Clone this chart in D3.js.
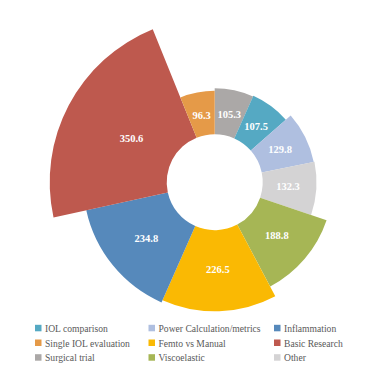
<!DOCTYPE html>
<html><head><meta charset="utf-8">
<script src="https://cdn.jsdelivr.net/npm/d3@7"></script>
<style>
html,body{margin:0;padding:0;background:#fff;}
svg{display:block;}
</style></head>
<body>
<svg id="chart" width="374" height="392"></svg>
<script>
// Data (clockwise from 12 o'clock)
const categories = ["Surgical trial","IOL comparison","Power Calculation/metrics","Other","Viscoelastic","Femto vs Manual","Inflammation","Basic Research","Single IOL evaluation"];
const values = [105.3, 107.5, 129.8, 132.3, 188.8, 226.5, 234.8, 350.6, 96.3];
const colors = ["#ABA8A7","#55A9C3","#AFBFE0","#D4D3D4","#A6B655","#FAB903","#5689BB","#BE594E","#E59A48"];
// Legend order (3 columns, row-major)
const legendOrder = ["IOL comparison","Power Calculation/metrics","Inflammation","Single IOL evaluation","Femto vs Manual","Basic Research","Surgical trial","Viscoelastic","Other"];

const svg = d3.select("#chart");
const cx = 214.7, cy = 182.2;
const inner = 48;
const rScale = d3.scaleLinear().domain([0, d3.max(values)]).range([63.5, 165]);
const colorScale = d3.scaleOrdinal().domain(categories).range(colors);

const data = categories.map((c,i)=>({cat:c, value:values[i]}));
const pie = d3.pie().value(d=>d.value).sort(null).startAngle(0).endAngle(2*Math.PI);
const arcs = pie(data);

const g = svg.append("g").attr("transform",`translate(${cx},${cy})`);
const arc = d3.arc().innerRadius(inner).outerRadius(d=>rScale(d.data.value));

g.selectAll("path").data(arcs).join("path")
  .attr("d", arc)
  .attr("fill", d=>colorScale(d.data.cat));

g.selectAll("text.lbl").data(arcs).join("text")
  .attr("class","lbl")
  .attr("transform", d=>{
    const a = (d.startAngle+d.endAngle)/2;
    const r = Math.min((inner + rScale(d.data.value))/2 - 1.5, 94);
    return `translate(${r*Math.sin(a)},${-r*Math.cos(a)})`;
  })
  .attr("text-anchor","middle")
  .attr("dominant-baseline","central")
  .attr("fill","#fff")
  .attr("font-family","'Liberation Serif', 'DejaVu Serif', serif")
  .attr("font-weight","bold")
  .attr("font-size","10.5px")
  .text(d=>d.data.value.toFixed(1));

// Legend
const colX = [35, 148.5, 274];
const rowY = [328.3, 343, 357.7];
const lg = svg.append("g");
legendOrder.forEach((c,i)=>{
  const col = i%3, row = Math.floor(i/3);
  lg.append("rect").attr("x",colX[col]).attr("y",rowY[row]-3.5).attr("width",6.5).attr("height",6.5).attr("fill",colorScale(c));
  lg.append("text").attr("x",colX[col]+10).attr("y",rowY[row])
    .attr("dominant-baseline","central")
    .attr("fill","#595959")
    .attr("font-family","'Liberation Serif', 'DejaVu Serif', serif")
    .attr("font-size","9.6px")
    .text(c);
});
</script>
</body></html>
